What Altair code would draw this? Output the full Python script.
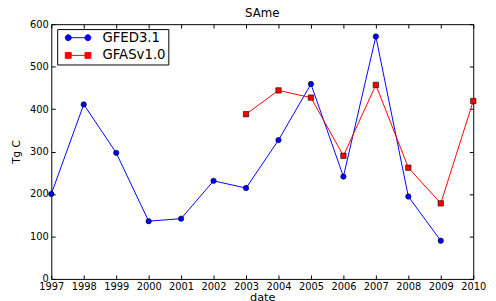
import altair as alt
import pandas as pd

# ---- data ----
gfed_years = [1997, 1998, 1999, 2000, 2001, 2002, 2003, 2004, 2005, 2006, 2007, 2008, 2009]
gfed_values = [200, 411, 297, 136, 142, 231, 214, 327, 459, 241, 571, 194, 90]
gfas_years = [2003, 2004, 2005, 2006, 2007, 2008, 2009, 2010]
gfas_values = [388, 444, 427, 290, 457, 262, 178, 419]

series_names = ["GFED3.1", "GFASv1.0"]
series_colors = ["#0000ff", "#ff0000"]
series_shapes = ["circle", "square"]
x_ticks = list(range(1997, 2011))
y_ticks = [0, 100, 200, 300, 400, 500, 600]

rows = [{"year": y, "value": v, "series": series_names[0]} for y, v in zip(gfed_years, gfed_values)]
rows += [{"year": y, "value": v, "series": series_names[1]} for y, v in zip(gfas_years, gfas_values)]
df = pd.DataFrame(rows)

# legend symbols: a line with a marker at each end (matplotlib style)
sep, r = 5.714, 0.857
line_part = f"M0,0L{sep},0"
def circ(cx):
    return (f"M{cx + r},0A{r},{r},0,1,1,{cx - r},0"
            f"A{r},{r},0,1,1,{cx + r},0Z")
def sq(cx):
    return f"M{cx - r},{-r}H{cx + r}V{r}H{cx - r}Z"
legend_paths = [line_part + circ(0) + circ(sep), line_part + sq(0) + sq(sep)]

FONT = "DejaVu Sans"
W, H = 429, 259

xscale = alt.Scale(domain=[1997, 2010], nice=False, zero=False)
yscale = alt.Scale(domain=[0, 600], nice=False)
cscale = alt.Scale(domain=series_names, range=series_colors)

tick_common = dict(labels=False, domain=False, grid=False, ticks=True,
                   tickSize=4, tickColor="black", tickWidth=1, title=None)

# main axes: labels + titles, no ticks
lines = alt.Chart(df).mark_line(strokeWidth=1).encode(
    x=alt.X("year:Q", scale=xscale,
            axis=alt.Axis(orient="bottom", values=x_ticks, format="d", ticks=False,
                          domain=False, grid=False, labelPadding=3, labelFlush=False,
                          labelOverlap=False, title="date", titleFontSize=11.5,
                          titlePadding=0)),
    y=alt.Y("value:Q", scale=yscale,
            axis=alt.Axis(orient="left", values=y_ticks, format="d", ticks=False,
                          domain=False, grid=False, labelPadding=3, title="Tg C",
                          titleFontSize=10.5, titlePadding=8)),
    color=alt.Color("series:N", scale=cscale, legend=None),
    detail="series:N",
)

# GFED points; their axes give inward ticks at bottom and left
points_gfed = alt.Chart(df).transform_filter(
    alt.datum.series == series_names[0]
).mark_point(filled=True, size=30, shape=series_shapes[0], stroke="black",
             strokeWidth=0.6, opacity=1).encode(
    x=alt.X("year:Q", scale=xscale,
            axis=alt.Axis(orient="top", offset=-H, values=x_ticks, **tick_common)),
    y=alt.Y("value:Q", scale=yscale,
            axis=alt.Axis(orient="right", offset=-W, values=y_ticks, **tick_common)),
    color=alt.Color("series:N", scale=cscale, legend=None),
)

# GFAS points
points_gfas = alt.Chart(df).transform_filter(
    alt.datum.series == series_names[1]
).mark_point(filled=True, size=30, shape=series_shapes[1], stroke="black",
             strokeWidth=0.6, opacity=1).encode(
    x=alt.X("year:Q", scale=xscale, axis=None),
    y=alt.Y("value:Q", scale=yscale, axis=None),
    color=alt.Color("series:N", scale=cscale, legend=None),
)

leg = dict(title=None, orient="none", legendX=6, legendY=5, padding=2, rowPadding=3,
           symbolSize=49, symbolStrokeWidth=1, symbolOffset=2.5, labelOffset=28,
           symbolOpacity=1,
           labelFont=FONT, labelFontSize=13.5, labelColor="black",
           strokeColor="black", fillColor="white", cornerRadius=0)

# legend-only layer (draws nothing); its axes give inward ticks at top and right
legend_layer = alt.Chart(df).transform_filter("false").mark_point(filled=True, opacity=1).encode(
    x=alt.X("year:Q", scale=xscale,
            axis=alt.Axis(orient="bottom", offset=-H, values=x_ticks, **tick_common)),
    y=alt.Y("value:Q", scale=yscale,
            axis=alt.Axis(orient="left", offset=-W, values=y_ticks, **tick_common)),
    fill=alt.Fill("series:N", scale=alt.Scale(domain=series_names, range=series_colors),
                  legend=alt.Legend(**leg)),
    stroke=alt.Stroke("series:N", scale=alt.Scale(domain=series_names, range=series_colors),
                      legend=alt.Legend(**leg)),
    shape=alt.Shape("series:N", scale=alt.Scale(domain=series_names, range=legend_paths),
                    legend=alt.Legend(**leg)),
)

chart = alt.layer(lines, points_gfed, points_gfas, legend_layer).resolve_axis(
    x="independent", y="independent"
).resolve_scale(
    fill="independent", stroke="independent", shape="independent"
).properties(
    width=W, height=H,
    title=alt.TitleParams("SAme", font=FONT, fontSize=12, fontWeight="normal",
                          color="black", anchor="middle", offset=-1),
    autosize="none",
    padding={"left": 44, "top": 14, "right": 15, "bottom": 20},
).configure_axis(
    labelFont=FONT, labelFontSize=10, labelColor="black",
    titleFont=FONT, titleFontWeight="normal", titleColor="black",
).configure_view(stroke="black", strokeWidth=1)

chart.save("out.html", embed_options={"renderer": "svg", "actions": False})
